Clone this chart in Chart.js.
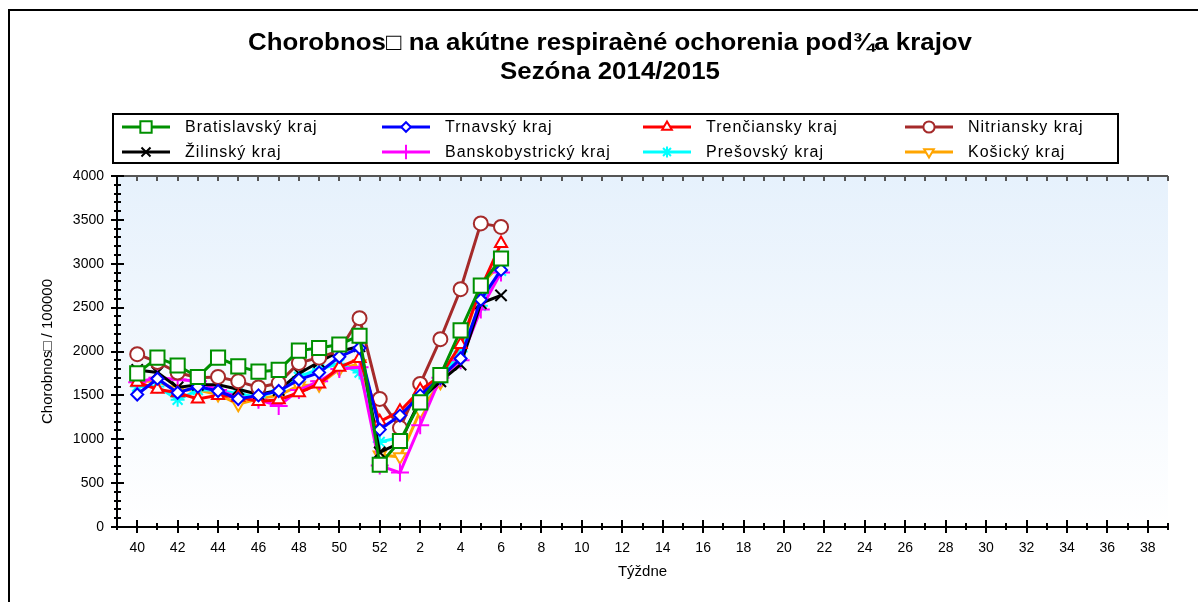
<!DOCTYPE html>
<html>
<head>
<meta charset="utf-8">
<script src="https://cdn.jsdelivr.net/npm/chart.js@4/dist/chart.umd.min.js"></script>
<style>
  html, body { margin: 0; padding: 0; background: #fff; }
  canvas { display: block; }
</style>
</head>
<body>
<canvas id="c" width="1198" height="602"></canvas>
<script>
// tyzdne sezony 2014/2015 (40..52, 1..6)
var weeks = [40, 41, 42, 43, 44, 45, 46, 47, 48, 49, 50, 51, 52, 1, 2, 3, 4, 5, 6];
var bratislava = [1750, 1930, 1840, 1710, 1930, 1830, 1770, 1790, 2010, 2040, 2080, 2180, 710, 980, 1420, 1730, 2240, 2750, 3060];
var trnava = [1510, 1690, 1530, 1600, 1550, 1460, 1500, 1550, 1680, 1760, 1940, 2040, 1110, 1270, 1500, 1700, 1920, 2590, 2930];
var trencin = [1650, 1570, 1530, 1460, 1500, 1480, 1430, 1450, 1530, 1630, 1820, 1920, 1200, 1320, 1560, 1720, 2080, 2720, 3230];
var nitra = [1970, 1880, 1760, 1700, 1710, 1660, 1590, 1640, 1870, 1930, 2010, 2380, 1460, 1130, 1630, 2140, 2710, 3460, 3420];
var zilina = [1790, 1760, 1590, 1620, 1620, 1570, 1510, 1560, 1750, 1880, 2000, 2060, 850, 960, 1450, 1660, 1850, 2550, 2640];
var bystrica = [1650, 1700, 1680, 1660, 1560, 1480, 1450, 1380, 1560, 1660, 1800, 1820, 700, 620, 1160, 1700, 1900, 2480, 2900];
var presov = [1600, 1600, 1450, 1560, 1560, 1520, 1480, 1560, 1710, 1800, 1860, 1760, 970, 1020, 1410, 1690, 2000, 2520, 2920];
var kosice = [1660, 1660, 1560, 1560, 1510, 1400, 1460, 1500, 1610, 1620, 1800, 1860, 820, 800, 1320, 1650, 2010, 2760, 3000];
var xTickLabels = [40, 42, 44, 46, 48, 50, 52, 2, 4, 6, 8, 10, 12, 14, 16, 18, 20, 22, 24, 26, 28, 30, 32, 34, 36, 38];
var yTicks = [0, 500, 1000, 1500, 2000, 2500, 3000, 3500, 4000];

var titleLines = ["Chorobnos\u25A1 na akútne respiraèné ochorenia pod¾a krajov", "Sezóna 2014/2015"];

// tyzden -> poradie na osi (40 = 0)
var weekIndex = function (w) { return w >= 40 ? w - 40 : w + 12; };
var pts = function (vals) { return weeks.map(function (w, i) { return { x: weekIndex(w), y: vals[i] }; }); };

var series = [
  { label: "Bratislavský kraj", data: bratislava, color: "#009000", style: "rect", r: 10, fill: "#fff" },
  { label: "Trnavský kraj", data: trnava, color: "#0000ff", style: "rectRot", r: 6, fill: "#fff" },
  { label: "Trenčiansky kraj", data: trencin, color: "#ff0000", style: "triangle", r: 7, fill: "#fff" },
  { label: "Nitriansky kraj", data: nitra, color: "#a52a2a", style: "circle", r: 7, fill: "#fff" },
  { label: "Žilinský kraj", data: zilina, color: "#000000", style: "crossRot", r: 8, fill: "#000" },
  { label: "Banskobystrický kraj", data: bystrica, color: "#ff00ff", style: "cross", r: 9, fill: "#ff00ff" },
  { label: "Prešovský kraj", data: presov, color: "#00ffff", style: "star", r: 7, fill: "#00ffff" },
  { label: "Košický kraj", data: kosice, color: "#ffa500", style: "triangle", r: 7, fill: "#fff", rot: 180 }
];

var datasets = series.map(function (s) {
  return {
    label: s.label,
    data: pts(s.data),
    borderColor: s.color,
    backgroundColor: s.fill,
    borderWidth: 3,
    pointStyle: s.style,
    pointRadius: s.r,
    pointRotation: s.rot || 0,
    pointBorderWidth: 2,
    pointBorderColor: s.color,
    pointBackgroundColor: s.fill,
    tension: 0
  };
});

var FONT = "'Liberation Sans', Arial, sans-serif";
Chart.defaults.font.family = FONT;
Chart.defaults.color = "#000";

var framePlugin = {
  id: "frame",
  beforeDraw: function (chart) {
    var ctx = chart.ctx;
    ctx.save();
    ctx.fillStyle = "#fff";
    ctx.fillRect(0, 0, chart.width, chart.height);
    ctx.strokeStyle = "#000";
    ctx.lineWidth = 2;
    ctx.beginPath();
    ctx.moveTo(9, chart.height);
    ctx.lineTo(9, 10);
    ctx.lineTo(chart.width, 10);
    ctx.stroke();
    ctx.restore();
  }
};

var axesPlugin = {
  id: "axes",
  beforeDatasetsDraw: function (chart) {
    var ctx = chart.ctx, a = chart.chartArea, x = chart.scales.x, y = chart.scales.y;
    ctx.save();
    var g = ctx.createLinearGradient(0, a.top, 0, a.bottom);
    g.addColorStop(0, "#e6f1fc");
    g.addColorStop(1, "#ffffff");
    ctx.fillStyle = g;
    ctx.fillRect(a.left, a.top, a.right - a.left, a.bottom - a.top);

    // horni okraj
    ctx.strokeStyle = "#555";
    ctx.lineWidth = 2;
    ctx.beginPath();
    ctx.moveTo(a.left, a.top);
    ctx.lineTo(a.right, a.top);
    for (var k = 0; k <= 51; k++) {
      var px = Math.round(x.getPixelForValue(k));
      ctx.moveTo(px, a.top);
      ctx.lineTo(px, a.top + 5);
    }
    ctx.stroke();

    ctx.strokeStyle = "#000";
    ctx.lineWidth = 2;
    ctx.beginPath();
    ctx.moveTo(a.left, a.top);
    ctx.lineTo(a.left, a.bottom);
    ctx.lineTo(a.right, a.bottom);
    for (var v = 0; v <= 4000; v += 100) {
      var py = Math.round(y.getPixelForValue(v));
      var major = v % 500 === 0;
      ctx.moveTo(a.left - (major ? 6 : 3), py);
      ctx.lineTo(a.left + (major ? 7 : 4), py);
    }
    for (var i = -1; i <= 51; i++) {
      var qx = Math.round(x.getPixelForValue(i));
      var maj = i % 2 === 0;
      ctx.moveTo(qx, a.bottom - (maj ? 7 : 4));
      ctx.lineTo(qx, a.bottom + (maj ? 6 : 3));
    }
    ctx.stroke();
    ctx.restore();
  }
};

var textPlugin = {
  id: "texts",
  afterDraw: function (chart) {
    var ctx = chart.ctx;
    ctx.save();
    // nadpis
    ctx.fillStyle = "#000";
    ctx.font = "bold 24px " + FONT;
    ctx.textAlign = "center";
    ctx.textBaseline = "middle";
    var w1 = ctx.measureText(titleLines[0]).width;
    var sx = 724 / w1;
    [43, 72].forEach(function (ty, n) {
      ctx.save();
      ctx.translate(610, ty);
      ctx.scale(sx, 1);
      ctx.fillText(titleLines[n], 0, 0);
      ctx.restore();
    });

    // legenda
    ctx.strokeStyle = "#000";
    ctx.lineWidth = 2;
    ctx.strokeRect(113, 114, 1005, 49);
    var cols = [122, 382, 643, 905];
    var rows = [127, 152];
    ctx.font = "16px " + FONT;
    ctx.textAlign = "left";
    ctx.letterSpacing = "1px";
    chart.data.datasets.forEach(function (ds, j) {
      var lx = cols[j % 4], ly = rows[Math.floor(j / 4)];
      ctx.strokeStyle = ds.borderColor;
      ctx.lineWidth = 3;
      ctx.beginPath();
      ctx.moveTo(lx, ly);
      ctx.lineTo(lx + 48, ly);
      ctx.stroke();
      ctx.fillStyle = ds.pointBackgroundColor;
      ctx.strokeStyle = ds.pointBorderColor;
      ctx.lineWidth = 2;
      Chart.helpers.drawPoint(ctx, {
        pointStyle: ds.pointStyle,
        radius: ds.pointRadius * 0.8,
        rotation: ds.pointRotation,
        borderWidth: 2
      }, lx + 24, ly);
      ctx.fillStyle = "#000";
      ctx.fillText(ds.label, lx + 63, ly + 1);
    });
    ctx.restore();
  }
};

new Chart(document.getElementById("c").getContext("2d"), {
  type: "line",
  data: { datasets: datasets },
  options: {
    responsive: false,
    animation: false,
    devicePixelRatio: 1,
    layout: { padding: { left: 20, top: 176, right: 30, bottom: 0 } },
    plugins: { legend: { display: false }, tooltip: { enabled: false } },
    scales: {
      x: {
        type: "linear",
        min: -1,
        max: 51,
        afterBuildTicks: function (s) {
          s.ticks = xTickLabels.map(function (_, n) { return { value: n * 2 }; });
        },
        afterFit: function (s) { s.height = 75; },
        ticks: {
          autoSkip: false,
          maxRotation: 0,
          padding: 6,
          font: { size: 14 },
          callback: function (v) { return String(xTickLabels[v / 2]); }
        },
        grid: { color: "rgba(0,0,0,0)", drawOnChartArea: false, tickLength: 7 },
        border: { display: false },
        title: { display: true, text: "Týždne", font: { size: 15 }, padding: { top: 0, bottom: 21 } }
      },
      y: {
        min: 0,
        max: 4000,
        afterBuildTicks: function (s) {
          s.ticks = yTicks.map(function (v) { return { value: v }; });
        },
        afterFit: function (s) { s.width = 97; },
        ticks: { padding: 6, font: { size: 14 }, callback: function (v) { return String(v); } },
        grid: { color: "rgba(0,0,0,0)", drawOnChartArea: false, tickLength: 7 },
        border: { display: false },
        title: { display: true, text: "Chorobnos\u25A1 / 100000", font: { size: 15 }, padding: { top: 19, bottom: 0 } }
      }
    }
  },
  plugins: [framePlugin, axesPlugin, textPlugin]
});
</script>
</body>
</html>
